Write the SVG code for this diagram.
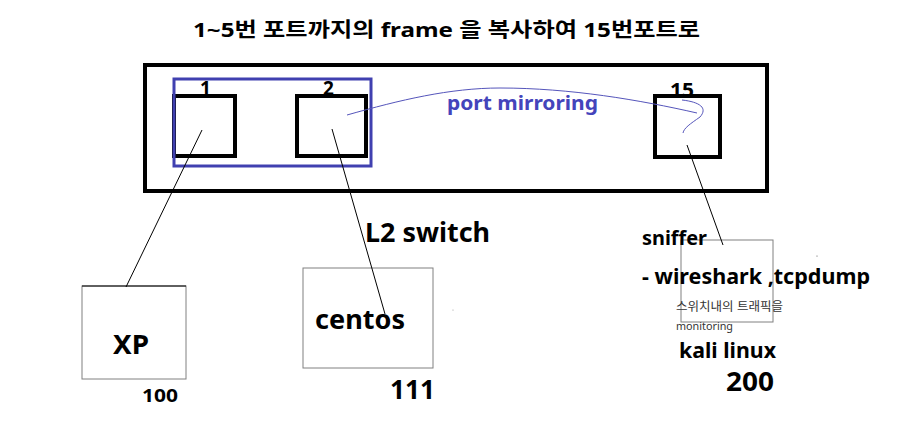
<svg xmlns="http://www.w3.org/2000/svg" width="901" height="432" viewBox="0 0 901 432">
<style>
text{font-family:"Noto Sans","Noto Sans CJK KR",sans-serif;fill:#000}
.b{font-weight:bold}
.port{fill:none;stroke:#000;stroke-width:4}
.host{fill:#fff;stroke:#808080;stroke-width:1}
.wire{fill:none;stroke:#000;stroke-width:1}
.mir{fill:none;stroke:#5555bb;stroke-width:1}
.small{fill:#333}
</style>
<rect width="901" height="432" fill="#fff"/>
<text id="title" class="b" x="193" y="37" font-size="20" textLength="507" lengthAdjust="spacingAndGlyphs">1~5번 포트까지의 frame 을 복사하여 15번포트로</text>
<g id="switch">
<rect x="145" y="65" width="622" height="126" fill="none" stroke="#000" stroke-width="4"/>
<text class="b" x="365" y="242" font-size="26" textLength="125" lengthAdjust="spacingAndGlyphs">L2 switch</text>
</g>
<g id="port1">
<text class="b" x="200" y="95" font-size="19">1</text>
<rect class="port" x="174" y="96" width="61" height="60"/>
</g>
<g id="port2">
<text class="b" x="323" y="95" font-size="19">2</text>
<rect class="port" x="297" y="96" width="69" height="60"/>
</g>
<g id="mirror-group">
<rect x="174" y="79" width="197" height="87" fill="none" stroke="#4040b0" stroke-width="3"/>
</g>
<g id="port15">
<text class="b" x="670" y="97" font-size="19" textLength="24" lengthAdjust="spacingAndGlyphs">15</text>
<rect class="port" x="655" y="96" width="65" height="61"/>
</g>
<g id="xp">
<rect class="host" x="82" y="286" width="104" height="93"/>
<line x1="82" y1="286" x2="186" y2="286" stroke="#000" stroke-width="1"/>
<text class="b" x="113" y="354" font-size="26" textLength="36" lengthAdjust="spacingAndGlyphs">XP</text>
<text class="b" x="142" y="402" font-size="18" textLength="36" lengthAdjust="spacingAndGlyphs">100</text>
</g>
<g id="centos">
<rect class="host" x="303" y="268" width="130" height="100" stroke="#333"/>
<text class="b" x="315" y="329" font-size="26" textLength="90" lengthAdjust="spacingAndGlyphs">centos</text>
<text class="b" x="390" y="399" font-size="26" textLength="45" lengthAdjust="spacingAndGlyphs">111</text>
</g>
<g id="kali">
<rect class="host" x="681" y="240" width="92" height="82" stroke="#666"/>
<text class="b" x="642" y="245" font-size="20" textLength="65" lengthAdjust="spacingAndGlyphs">sniffer</text>
<text class="b" x="642" y="284" font-size="22" textLength="228" lengthAdjust="spacingAndGlyphs">- wireshark ,tcpdump</text>
<text class="small" x="676" y="311" font-size="12" textLength="107" lengthAdjust="spacingAndGlyphs">스위치내의 트래픽을</text>
<text class="small" x="676" y="330" font-size="11" textLength="57" lengthAdjust="spacingAndGlyphs">monitoring</text>
<text class="b" x="679" y="358" font-size="21" textLength="97" lengthAdjust="spacingAndGlyphs">kali linux</text>
<text class="b" x="726" y="391" font-size="27" textLength="48" lengthAdjust="spacingAndGlyphs">200</text>
</g>
<g id="connectors">
<line class="wire" x1="202" y1="130" x2="126" y2="287"/>
<line class="wire" x1="332" y1="129" x2="385" y2="314"/>
<line class="wire" x1="687" y1="145" x2="723" y2="245"/>
<path class="mir" d="M347,115 C400,100 450,88 500,88 C570,88 640,100 697,113"/>
<path class="mir" d="M682,100 C700,102 708,108 700,117 C690,124 684,128 683,133"/>
<text class="b" x="447" y="110" font-size="19" style="fill:#4444bb" textLength="151" lengthAdjust="spacingAndGlyphs">port mirroring</text>
</g>
<circle cx="453" cy="310" r="0.6" fill="#999"/>
<circle cx="817" cy="256" r="0.6" fill="#555"/>
</svg>
